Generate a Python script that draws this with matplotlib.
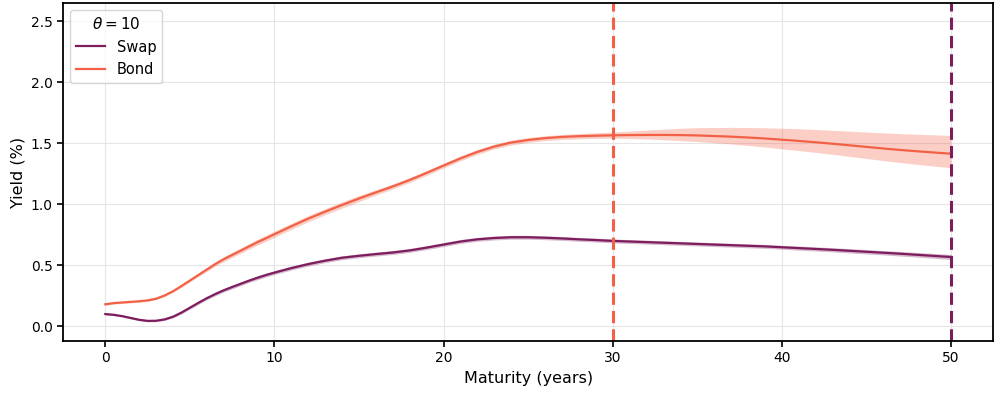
import numpy as np
import matplotlib
matplotlib.use("Agg")
import matplotlib.pyplot as plt

# ---- data ----
maturity = [0, 0.5, 1, 1.5, 2, 2.5, 3, 3.5, 4, 4.5, 5, 5.5, 6, 6.5, 7, 7.5, 8, 8.5, 9, 9.5,
            10, 11, 12, 13, 14, 15, 16, 17, 18, 19, 20, 21, 22, 23, 24, 25, 26, 27, 28, 29,
            30, 31, 32, 33, 34, 35, 36, 37, 38, 39, 40, 41, 42, 43, 44, 45, 46, 47, 48, 49, 50]

swap = [0.10, 0.094, 0.083, 0.068, 0.053, 0.044, 0.045, 0.056, 0.078, 0.112, 0.152, 0.192,
        0.23, 0.264, 0.295, 0.322, 0.348, 0.374, 0.398, 0.42, 0.44,
        0.477, 0.51, 0.538, 0.562, 0.578, 0.592, 0.605, 0.622, 0.645, 0.67,
        0.695, 0.713, 0.724, 0.73, 0.73, 0.726, 0.72, 0.713, 0.707, 0.70,
        0.695, 0.69, 0.685, 0.68, 0.675, 0.67, 0.665, 0.66, 0.655, 0.648,
        0.641, 0.634, 0.627, 0.619, 0.611, 0.603, 0.595, 0.586, 0.577, 0.568]

bond = [0.18, 0.19, 0.195, 0.20, 0.205, 0.212, 0.226, 0.252, 0.287, 0.33, 0.375, 0.42,
        0.465, 0.51, 0.55, 0.585, 0.62, 0.655, 0.69, 0.722, 0.755,
        0.82, 0.883, 0.94, 0.995, 1.048, 1.098, 1.147, 1.2, 1.258, 1.318,
        1.377, 1.43, 1.474, 1.507, 1.528, 1.543, 1.553, 1.559, 1.563, 1.566,
        1.568, 1.569, 1.569, 1.568, 1.565, 1.56, 1.555, 1.548, 1.54, 1.53,
        1.52, 1.509, 1.497, 1.484, 1.471, 1.458, 1.446, 1.435, 1.425, 1.415]

swap_band = [0.008] * 8 + [0.01, 0.011, 0.012, 0.013, 0.013, 0.014, 0.014, 0.015, 0.015,
             0.015, 0.016, 0.016, 0.016] + [0.016] * 30 + [0.017, 0.017, 0.017, 0.018,
             0.018, 0.018, 0.019, 0.019, 0.02, 0.021]

bond_up = [0.008] * 8 + [0.01, 0.011, 0.012, 0.013, 0.015, 0.017, 0.02, 0.021, 0.022,
           0.023, 0.024, 0.025, 0.025] + [0.025, 0.025, 0.025, 0.025, 0.025, 0.022, 0.02,
           0.02, 0.02, 0.02, 0.02, 0.02, 0.02, 0.02, 0.02, 0.02, 0.02, 0.022, 0.024,
           0.027] + [0.033, 0.04, 0.048, 0.056, 0.064, 0.07, 0.076, 0.082, 0.088, 0.094,
           0.1, 0.105, 0.11, 0.116, 0.122, 0.128, 0.134, 0.14, 0.145, 0.15]

bond_lo = [0.008] * 8 + [0.01, 0.011, 0.012, 0.013, 0.015, 0.017, 0.02, 0.021, 0.022,
           0.023, 0.024, 0.025, 0.025] + [0.025, 0.025, 0.025, 0.025, 0.025, 0.022, 0.02,
           0.02, 0.02, 0.02, 0.02, 0.02, 0.02, 0.02, 0.02, 0.02, 0.021, 0.022, 0.022,
           0.024] + [0.028, 0.033, 0.039, 0.045, 0.05, 0.055, 0.06, 0.065, 0.07, 0.075,
           0.079, 0.083, 0.087, 0.091, 0.095, 0.099, 0.103, 0.107, 0.111, 0.115]

theta = 10
swap_horizon = 50
bond_horizon = 30

swap_color = "#7d1d5e"
bond_color = "#f26145"

x = np.array(maturity)
sw = np.array(swap)
bd = np.array(bond)

fig = plt.figure(figsize=(9.96, 3.95), dpi=100)
ax = fig.add_axes([0.0633, 0.137, 0.934, 0.855])

ax.fill_between(x, sw - np.array(swap_band), sw + np.array(swap_band),
                color=swap_color, alpha=0.3, lw=0)
ax.fill_between(x, bd - np.array(bond_lo), bd + np.array(bond_up),
                color=bond_color, alpha=0.3, lw=0)
ax.plot(x, sw, color=swap_color, lw=1.6, label="Swap")
ax.plot(x, bd, color=bond_color, lw=1.6, label="Bond")

ax.axvline(bond_horizon, color=bond_color, lw=2.2, ls=(0, (4, 2)))
ax.axvline(swap_horizon, color=swap_color, lw=2.2, ls=(0, (4, 2)))

ax.set_xlim(-2.5, 52.5)
ax.set_ylim(-0.12, 2.65)
ax.set_xticks([0, 10, 20, 30, 40, 50])
ax.set_yticks([0.0, 0.5, 1.0, 1.5, 2.0, 2.5])
ax.set_xlabel("Maturity (years)", fontsize=11.5)
ax.set_ylabel("Yield (%)", fontsize=11.5)
ax.tick_params(labelsize=10, width=1.2, length=4)
ax.grid(True, color="#e6e6e6", lw=0.8)
ax.set_axisbelow(True)
for s in ax.spines.values():
    s.set_linewidth(1.3)
    s.set_color("black")

leg = ax.legend(title=r"$\theta = %d$" % theta, loc="upper left", fontsize=10.5,
                title_fontsize=11, frameon=True, fancybox=True, framealpha=0.8)

fig.savefig("out.png", dpi=100)
